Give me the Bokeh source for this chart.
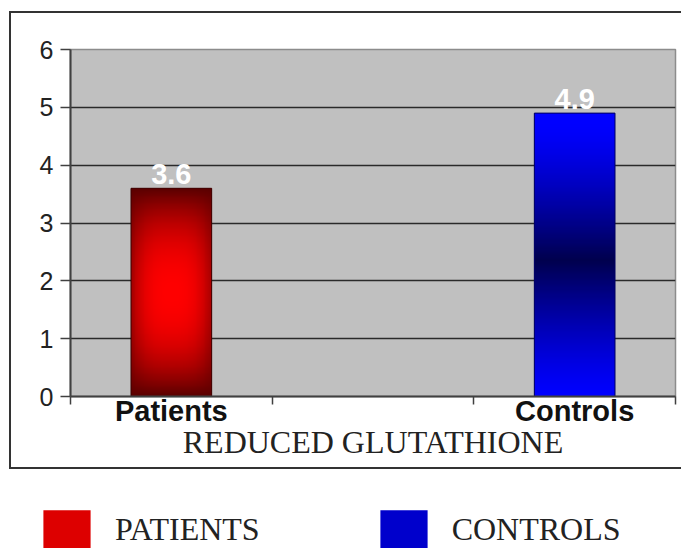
import numpy as np
from bokeh.plotting import figure
from bokeh.layouts import column, row
from bokeh.models import (Range1d, FixedTicker, ColumnDataSource, Legend, LegendItem,
                          InlineStyleSheet)
from bokeh.core.properties import value
from bokeh.embed import file_html
from bokeh.resources import INLINE

# ---- data ----
slots = ["Patients", "", "Controls"]          # category slots on the x axis
categories = ["Patients", "Controls"]
values = [3.6, 4.9]
legend_labels = ["PATIENTS", "CONTROLS"]
y_ticks = [0, 1, 2, 3, 4, 5, 6]
axis_title = "REDUCED GLUTATHIONE"

bar_width = 0.4
xs = [slots.index(c) + 0.5 for c in categories]

frame_css = InlineStyleSheet(css="""
:host { position: relative; }
:host::after {
  content: ''; position: absolute; left: 9px; top: 11px; width: 700px; height: 458px;
  border: 2px solid #333333; box-sizing: border-box; pointer-events: none;
}
""")

p = figure(width=681, height=470, output_backend="svg", toolbar_location=None,
           x_range=Range1d(0, len(slots)), y_range=Range1d(y_ticks[0], y_ticks[-1]),
           min_border_left=70, min_border_right=6, min_border_top=49,
           min_border_bottom=74, stylesheets=[frame_css])
p.background_fill_color = "#c0c0c0"
p.border_fill_color = "white"
p.outline_line_color = "#8c8c8c"
p.outline_line_width = 1.5

# grid
p.xgrid.visible = False
p.ygrid.ticker = FixedTicker(ticks=y_ticks[1:-1])
p.ygrid.grid_line_color = "#2a2a2a"
p.ygrid.grid_line_width = 1.5

# y axis
p.yaxis.ticker = FixedTicker(ticks=y_ticks)
p.yaxis.axis_line_color = "#404040"
p.yaxis.axis_line_width = 2
p.yaxis.major_tick_line_color = "#404040"
p.yaxis.major_tick_line_width = 1.5
p.yaxis.major_tick_out = 10
p.yaxis.major_tick_in = 0
p.yaxis.minor_tick_line_color = None
p.yaxis.major_label_standoff = 7
p.yaxis.major_label_text_font = "Liberation Sans"
p.yaxis.major_label_text_font_size = "25px"
p.yaxis.major_label_text_color = "#222222"

# x axis
label_ticks = [slots.index(c) + 0.5 for c in categories]
p.xaxis.ticker = FixedTicker(ticks=label_ticks, minor_ticks=list(range(len(slots) + 1)))
p.xaxis.major_label_overrides = {t: c for t, c in zip(label_ticks, categories)}
p.xaxis.axis_line_color = "#404040"
p.xaxis.axis_line_width = 2
p.xaxis.major_tick_out = 0
p.xaxis.major_tick_in = 0
p.xaxis.major_tick_line_color = None
p.xaxis.minor_tick_out = 8
p.xaxis.minor_tick_in = 0
p.xaxis.minor_tick_line_color = "#404040"
p.xaxis.minor_tick_line_width = 1.5
p.xaxis.major_label_standoff = -10
p.xaxis.major_label_text_font = "Liberation Sans"
p.xaxis.major_label_text_font_style = "bold"
p.xaxis.major_label_text_font_size = "29px"
p.xaxis.major_label_text_color = "#111111"
p.xaxis.axis_label = axis_title
p.xaxis.axis_label_text_font = "Liberation Serif"
p.xaxis.axis_label_text_font_style = "normal"
p.xaxis.axis_label_text_font_size = "32px"
p.xaxis.axis_label_text_color = "#222222"
p.xaxis.axis_label_standoff = -6

# bars (solid base)
src = ColumnDataSource(dict(x=xs, top=values, color=["#dd0000", "#0000cc"],
                            line=["#3a0000", "#000060"]))
p.vbar(x="x", top="top", width=bar_width, fill_color="color", line_color=None, source=src)


def gradient(kind, h=240, w=90):
    v = np.linspace(0, 1, h)[:, None]
    u = np.linspace(0, 1, w)[None, :]
    img = np.empty((h, w), dtype=np.uint32)
    view = img.view(dtype=np.uint8).reshape((h, w, 4))
    if kind == 0:
        fv = np.abs(2 * v - 1) ** 2.2
        fh = (np.abs(2 * u - 1) ** 3) * 0.55
        f = 1 - (1 - fv) * (1 - fh)
        r = 255 * (1 - f) + 90 * f
        view[..., 0] = r.astype(np.uint8)
        view[..., 1] = 0
        view[..., 2] = 0
    else:
        f = np.clip(1 - np.abs(2 * (v - 0.48) / 0.96), 0, 1) ** 1.3
        f = f * np.ones_like(u)
        b = 255 * (1 - f) + 78 * f
        view[..., 0] = 0
        view[..., 1] = 0
        view[..., 2] = b.astype(np.uint8)
    view[..., 3] = 255
    return img


for i, (x, val) in enumerate(zip(xs, values)):
    p.image_rgba(image=[gradient(i)], x=x - bar_width / 2, y=0, dw=bar_width, dh=val)

p.vbar(x="x", top="top", width=bar_width, fill_color=None, line_color="line",
       line_width=1, source=src)

# value labels
p.text(x=xs, y=values, text=[f"{v:g}" for v in values], text_color="white",
       text_font=value("Liberation Sans"), text_font_style="bold",
       text_font_size="29px", text_align="center", text_baseline="alphabetic",
       y_offset=-14)

# ---- legend strip below the framed chart ----
q = figure(width=681, height=78, output_backend="svg", toolbar_location=None,
           x_range=Range1d(-10, -9), y_range=Range1d(0, 6),
           x_axis_type=None, y_axis_type=None, min_border=0)
q.outline_line_color = None
q.grid.visible = False
q.background_fill_color = "white"
q.border_fill_color = "white"
swatches = q.vbar(x="x", top="top", width=bar_width, fill_color="color",
                  line_color=None, source=src)
legend = Legend(items=[LegendItem(label=legend_labels[i], renderers=[swatches], index=i)
                       for i in range(len(categories))],
                location=(37, -5), orientation="horizontal",
                glyph_width=59, glyph_height=48, label_standoff=19, spacing=114,
                padding=0, margin=0, border_line_color=None,
                background_fill_alpha=0, label_text_font="Liberation Serif",
                label_text_font_size="32px", label_text_color="#222222",
                label_height=48)
q.add_layout(legend)

layout = column(p, row(q), spacing=0)
open("out.html", "w").write(file_html(layout, INLINE))
